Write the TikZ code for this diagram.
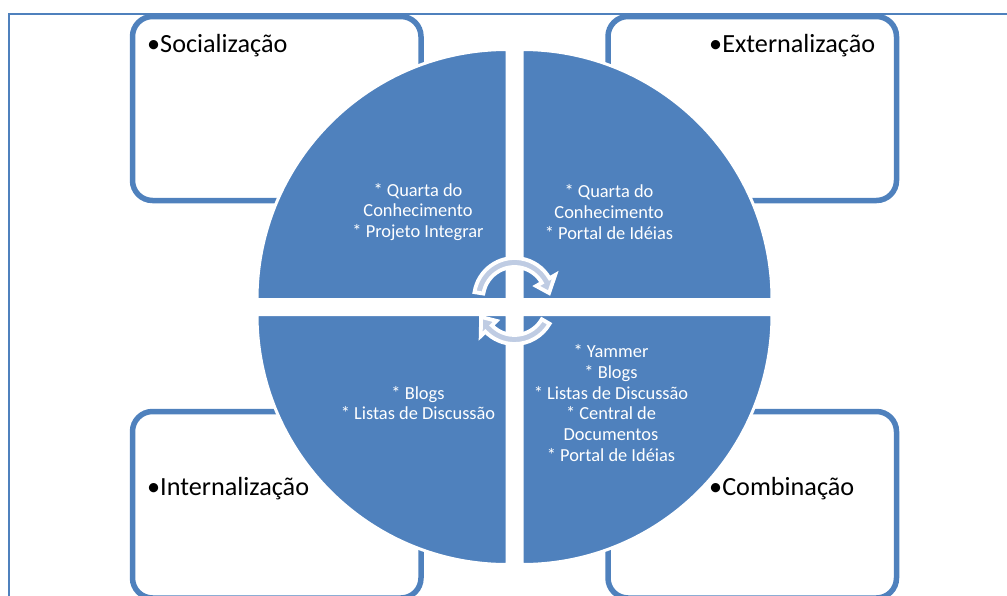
\documentclass[tikz,border=0pt]{standalone}
\usepackage{fontspec}
\setmainfont{Carlito}
\definecolor{quadblue}{HTML}{4F81BD}
\definecolor{cycfill}{HTML}{BFCCE3}
\tikzset{
  frame/.style={draw=quadblue, line width=2pt},
  box/.style={draw=quadblue, line width=5.5pt, rounded corners=20pt},
  quad/.style={fill=quadblue, draw=white, line width=3pt},
  cyc/.style={fill=cycfill, draw=white, line width=3.8pt},
  lbl/.style={anchor=base west, inner sep=0pt, font=\fontsize{26.2}{31}\selectfont},
  items/.style={align=center, text=white, inner sep=0pt, font=\fontsize{18.4}{20.8}\selectfont},
}
\begin{document}
\begin{tikzpicture}[x=1pt,y=1pt]
      \useasboundingbox (0,0) rectangle (1007,-595);
      \draw[frame] (9,-600) -- (9,-13.5) -- (1010,-13.5);
      % the four boxes
      \draw[box] (132.5,-16.5) rectangle (421,-200.5);
      \draw[box] (608,-16.5) rectangle (896.5,-200.5);
      \draw[box] (132.5,-411.5) rectangle (421,-598);
      \draw[box] (608,-411.5) rectangle (896.5,-598);
      % the quarters of the circle
      \filldraw[quad] (507,-299.5) -- ++(-250,0) arc[start angle=180, end angle=90, radius=250] -- cycle;
      \filldraw[quad] (522,-299.5) -- ++(0,250) arc[start angle=90, end angle=0, radius=250] -- cycle;
      \filldraw[quad] (507,-314.5) -- ++(0,-250) arc[start angle=270, end angle=180, radius=250] -- cycle;
      \filldraw[quad] (522,-314.5) -- ++(250,0) arc[start angle=0, end angle=-90, radius=250] -- cycle;
      % the two round arrows
      \begin{scope}[shift={(514.5,-298.5)}]
        \filldraw[cyc] (171:40.5) arc[start angle=171, end angle=30, radius=40.5]
          -- (30:47) -- (9:35) -- (30:25) -- (30:31.5)
          arc[start angle=30, end angle=171, radius=31.5] -- cycle;
      \end{scope}
      \begin{scope}[shift={(514.5,-303.5)}]
        \filldraw[cyc] (-30:40.5) arc[start angle=-30, end angle=-136, radius=40.5]
          -- (-136:47) -- (-158:36) -- (-136:25) -- (-136:31.5)
          arc[start angle=-136, end angle=-30, radius=31.5] -- cycle;
      \end{scope}
      \draw
        (418,-212) node[items] (q1){* Quarta do\\Conhecimento\\* Projeto Integrar}
        (609,-212) node[items] (q2){* Quarta do\\Conhecimento\\* Portal de Idéias}
        (418,-403) node[items] (q3){* Blogs\\* Listas de Discussão}
        (611,-403) node[items] (q4){* Yammer\\* Blogs\\* Listas de Discussão\\* Central de\\Documentos\\* Portal de Idéias};
      \draw
        (147,-52) node[lbl] (soc){•Socialização}
        (709,-52) node[lbl] (ext){•Externalização}
        (147,-495) node[lbl] (int){•Internalização}
        (709,-495) node[lbl] (comb){•Combinação};
    \end{tikzpicture}
\end{document}
